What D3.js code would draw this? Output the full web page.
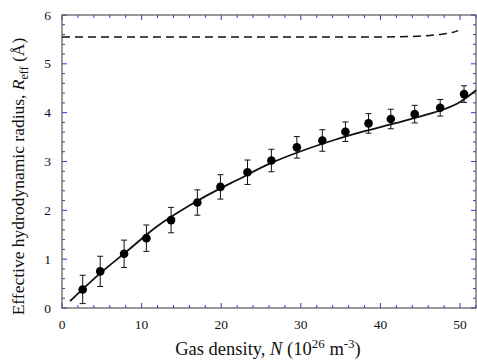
<!DOCTYPE html>
<html>
<head>
<meta charset="utf-8">
<script src="https://cdn.jsdelivr.net/npm/d3@7"></script>
<style>
  body { margin: 0; background: #fff; }
  text { font-family: "Liberation Serif", "DejaVu Serif", serif; fill: #111; }
</style>
</head>
<body>
<svg id="chart" width="477" height="360"></svg>
<script>
// measured points with error bars
const density = [2.6, 4.8, 7.8, 10.6, 13.7, 17.0, 19.9, 23.3, 26.3, 29.5, 32.7, 35.6, 38.5, 41.3, 44.3, 47.5, 50.5];
const radius  = [0.38, 0.75, 1.11, 1.43, 1.80, 2.16, 2.48, 2.78, 3.02, 3.29, 3.43, 3.61, 3.78, 3.87, 3.97, 4.10, 4.38];
const radiusErr = [0.29, 0.31, 0.28, 0.27, 0.26, 0.26, 0.25, 0.25, 0.23, 0.22, 0.22, 0.20, 0.20, 0.20, 0.18, 0.17, 0.17];

// solid fit curve
const fitN = [1, 5, 8, 12, 16, 20, 22, 26, 30, 34, 38, 42, 46, 48, 50, 52];
const fitR = [0.14, 0.74, 1.14, 1.68, 2.10, 2.46, 2.62, 2.95, 3.21, 3.43, 3.62, 3.79, 3.97, 4.07, 4.22, 4.46];

// dashed curve
const dashN = [0, 10, 20, 30, 40, 44, 47.25, 49, 49.75];
const dashR = [5.55, 5.55, 5.55, 5.55, 5.55, 5.56, 5.60, 5.64, 5.68];

const xTicks = [0, 10, 20, 30, 40, 50];
const yTicks = [0, 1, 2, 3, 4, 5, 6];

const margin = { top: 15, right: 1, bottom: 52, left: 62 };
const svg = d3.select("#chart");
const W = +svg.attr("width"), H = +svg.attr("height");
const w = W - margin.left - margin.right, h = H - margin.top - margin.bottom;

const x = d3.scaleLinear().domain([0, 52]).range([0, w]);
const y = d3.scaleLinear().domain([0, 6]).range([h, 0]);

const g = svg.append("g").attr("transform", `translate(${margin.left},${margin.top})`);

const tickBlue = "#3333ee";

// minor + major ticks, all inward, on four sides
function ticks(sel, scale, vals, len, orient) {
  vals.forEach(v => {
    const p = scale(v);
    if (orient === "bottom") sel.append("line").attr("x1", p).attr("x2", p).attr("y1", h).attr("y2", h - len);
    if (orient === "top") sel.append("line").attr("x1", p).attr("x2", p).attr("y1", 0).attr("y2", len);
    if (orient === "left") sel.append("line").attr("y1", p).attr("y2", p).attr("x1", 0).attr("x2", len);
    if (orient === "right") sel.append("line").attr("y1", p).attr("y2", p).attr("x1", w).attr("x2", w - len);
  });
}
const tk = g.append("g").attr("stroke", tickBlue).attr("stroke-width", 1);
const xMinor = d3.range(0, 53, 2).filter(v => v % 10 !== 0);
const yMinor = d3.range(0, 6.01, 0.2).filter(v => Math.abs(v - Math.round(v)) > 0.01);
["bottom", "top"].forEach(o => { ticks(tk, x, xTicks, 5, o); ticks(tk, x, xMinor, 3, o); });
["left", "right"].forEach(o => { ticks(tk, y, yTicks, 5, o); ticks(tk, y, yMinor, 3, o); });

// frame
g.append("rect").attr("width", w).attr("height", h)
  .attr("fill", "none").attr("stroke", "#555").attr("stroke-width", 1.2);

// tick labels
g.append("g").selectAll("text").data(xTicks).join("text")
  .attr("x", d => x(d)).attr("y", h + 21)
  .attr("text-anchor", "middle").attr("font-size", 13.5).text(d => d);
g.append("g").selectAll("text").data(yTicks).join("text")
  .attr("x", -11).attr("y", d => y(d) + 4.5)
  .attr("text-anchor", "end").attr("font-size", 13.5).text(d => d);

// axis titles
const xl = g.append("text").attr("x", w / 2 - 1).attr("y", h + 47)
  .attr("text-anchor", "middle").attr("font-size", 18.5);
xl.append("tspan").text("Gas density, ");
xl.append("tspan").attr("font-style", "italic").text("N");
xl.append("tspan").text(" (10");
xl.append("tspan").attr("font-size", 13).attr("dy", -7).text("26");
xl.append("tspan").attr("dy", 7).text(" m");
xl.append("tspan").attr("font-size", 13).attr("dy", -7).text("-3");
xl.append("tspan").attr("dy", 7).text(")");

const yl = svg.append("text")
  .attr("transform", `translate(24,${margin.top + h / 2 + 15}) rotate(-90)`)
  .attr("text-anchor", "middle").attr("font-size", 17.5);
yl.append("tspan").text("Effective hydrodynamic radius, ");
yl.append("tspan").attr("font-style", "italic").text("R");
yl.append("tspan").attr("font-size", 12).attr("dy", 4).text("eff");
yl.append("tspan").attr("dy", -4).text(" (Å)");

// curves
const line = d3.line().x(d => x(d[0])).y(d => y(d[1])).curve(d3.curveMonotoneX);
g.append("path").datum(dashN.map((n, i) => [n, dashR[i]]))
  .attr("d", line).attr("fill", "none").attr("stroke", "#111")
  .attr("stroke-width", 1.5).attr("stroke-dasharray", "8,5");
g.append("path").datum(fitN.map((n, i) => [n, fitR[i]]))
  .attr("d", line).attr("fill", "none").attr("stroke", "#111").attr("stroke-width", 1.8);

// error bars and markers
const pts = density.map((n, i) => ({ n, r: radius[i], e: radiusErr[i] }));
const eb = g.append("g").attr("stroke", "#111").attr("stroke-width", 1);
eb.selectAll(".v").data(pts).join("line")
  .attr("x1", d => x(d.n)).attr("x2", d => x(d.n))
  .attr("y1", d => y(d.r + d.e)).attr("y2", d => y(d.r - d.e));
eb.selectAll(".t").data(pts).join("line")
  .attr("x1", d => x(d.n) - 3).attr("x2", d => x(d.n) + 3)
  .attr("y1", d => y(d.r + d.e)).attr("y2", d => y(d.r + d.e));
eb.selectAll(".b").data(pts).join("line")
  .attr("x1", d => x(d.n) - 3).attr("x2", d => x(d.n) + 3)
  .attr("y1", d => y(d.r - d.e)).attr("y2", d => y(d.r - d.e));
g.append("g").selectAll("circle").data(pts).join("circle")
  .attr("cx", d => x(d.n)).attr("cy", d => y(d.r)).attr("r", 4.3).attr("fill", "#000");
</script>
</body>
</html>
